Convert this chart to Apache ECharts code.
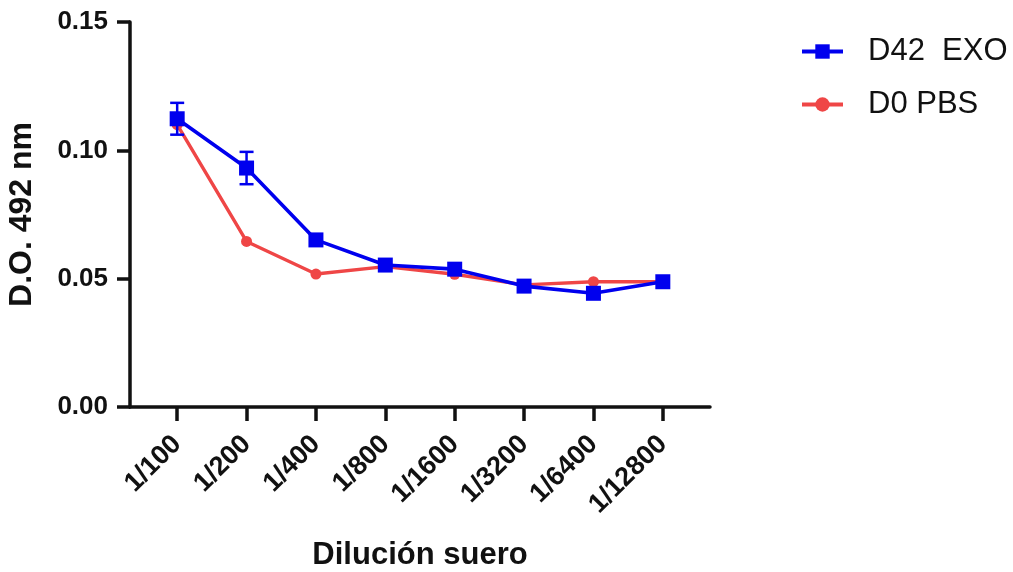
<!DOCTYPE html>
<html>
<head>
<meta charset="utf-8">
<script src="https://cdn.jsdelivr.net/npm/echarts@6/dist/echarts.min.js"></script>
<style>
  html, body { margin: 0; padding: 0; background: #ffffff; }
  #chart { width: 1013px; height: 572px; }
</style>
</head>
<body>
<div id="chart"></div>
<script>
// Serum dilutions on the x axis
const categories = ['1/100', '1/200', '1/400', '1/800', '1/1600', '1/3200', '1/6400', '1/12800'];

// Optical density at 492 nm
const d42Exo = [0.1123, 0.0931, 0.0651, 0.0553, 0.0537, 0.0471, 0.0443, 0.0488];
const d42ExoErr = [0.0062, 0.0063, 0, 0, 0, 0, 0, 0];
const d0Pbs = [0.1100, 0.0645, 0.0518, 0.0547, 0.0517, 0.0476, 0.0488, 0.0488];

const yTicks = [0, 0.05, 0.10, 0.15];

const FONT = "'Liberation Sans', Arial, Helvetica, sans-serif";
const BLUE = '#0000ee';
const RED = '#ef4646';

const idx = categories.map((_, i) => i);
const toPairs = arr => arr.map((v, i) => [i, v]);
const errData = d42Exo
  .map((v, i) => [i, v - d42ExoErr[i], v + d42ExoErr[i]])
  .filter((_, i) => d42ExoErr[i] > 0);

const chart = echarts.init(document.getElementById('chart'), null, { renderer: 'canvas' });

chart.setOption({
  animation: false,
  backgroundColor: '#ffffff',
  grid: { left: 130, right: 303, top: 22, bottom: 165, containLabel: false, outerBoundsMode: 'none' },
  legend: {
    orient: 'vertical',
    left: 795,
    top: 31,
    itemWidth: 41,
    itemHeight: 18,
    itemGap: 22,
    data: ['D42  EXO', 'D0 PBS'],
    lineStyle: { width: 4 },
    textStyle: {
      fontFamily: FONT,
      fontSize: 31,
      color: '#111111',
      lineHeight: 31,
      padding: [0, 0, 0, 20]
    }
  },
  xAxis: {
    type: 'value',
    min: -0.68,
    max: 7.68,
    name: 'Dilución suero',
    nameLocation: 'middle',
    nameGap: 133,
    nameTextStyle: { fontFamily: FONT, fontSize: 31, fontWeight: 'bold', color: '#111111' },
    splitLine: { show: false },
    axisLine: { show: true, lineStyle: { color: '#111111', width: 3.5 } },
    axisTick: {
      show: true,
      customValues: idx,
      length: 14,
      lineStyle: { color: '#111111', width: 3.5 }
    },
    axisLabel: {
      customValues: idx,
      rotate: 45,
      margin: 33,
      padding: [10, 0, 0, 0],
      fontFamily: FONT,
      fontSize: 27,
      fontWeight: 'bold',
      color: '#111111',
      formatter: v => categories[Math.round(v)]
    }
  },
  yAxis: {
    type: 'value',
    min: 0,
    max: 0.15,
    name: 'D.O. 492 nm',
    nameLocation: 'middle',
    nameGap: 92,
    nameTextStyle: { fontFamily: FONT, fontSize: 32, fontWeight: 'bold', color: '#111111' },
    splitLine: { show: false },
    axisLine: { show: true, onZero: false, lineStyle: { color: '#111111', width: 3.5 } },
    axisTick: {
      show: true,
      customValues: yTicks,
      length: 13,
      lineStyle: { color: '#111111', width: 3.5 }
    },
    axisLabel: {
      customValues: yTicks,
      margin: 22,
      fontFamily: FONT,
      fontSize: 26,
      fontWeight: 'bold',
      color: '#111111',
      formatter: v => v.toFixed(2)
    }
  },
  series: [
    {
      name: 'D0 PBS',
      type: 'line',
      data: toPairs(d0Pbs),
      symbol: 'circle',
      symbolSize: 11,
      z: 3,
      lineStyle: { color: RED, width: 3.4 },
      itemStyle: { color: RED }
    },
    {
      name: 'D42  EXO',
      type: 'line',
      data: toPairs(d42Exo),
      symbol: 'rect',
      symbolSize: 15,
      z: 5,
      lineStyle: { color: BLUE, width: 3.6 },
      itemStyle: { color: BLUE }
    },
    {
      name: 'err',
      type: 'custom',
      z: 4,
      data: errData,
      encode: { x: 0, y: [1, 2] },
      renderItem: (params, api) => {
        const x = api.value(0);
        const lo = api.coord([x, api.value(1)]);
        const hi = api.coord([x, api.value(2)]);
        const cap = 7;
        const style = { stroke: BLUE, lineWidth: 2.5 };
        return {
          type: 'group',
          children: [
            { type: 'line', shape: { x1: lo[0], y1: lo[1], x2: hi[0], y2: hi[1] }, style },
            { type: 'line', shape: { x1: lo[0] - cap, y1: lo[1], x2: lo[0] + cap, y2: lo[1] }, style },
            { type: 'line', shape: { x1: hi[0] - cap, y1: hi[1], x2: hi[0] + cap, y2: hi[1] }, style }
          ]
        };
      }
    }
  ]
});
</script>
</body>
</html>
